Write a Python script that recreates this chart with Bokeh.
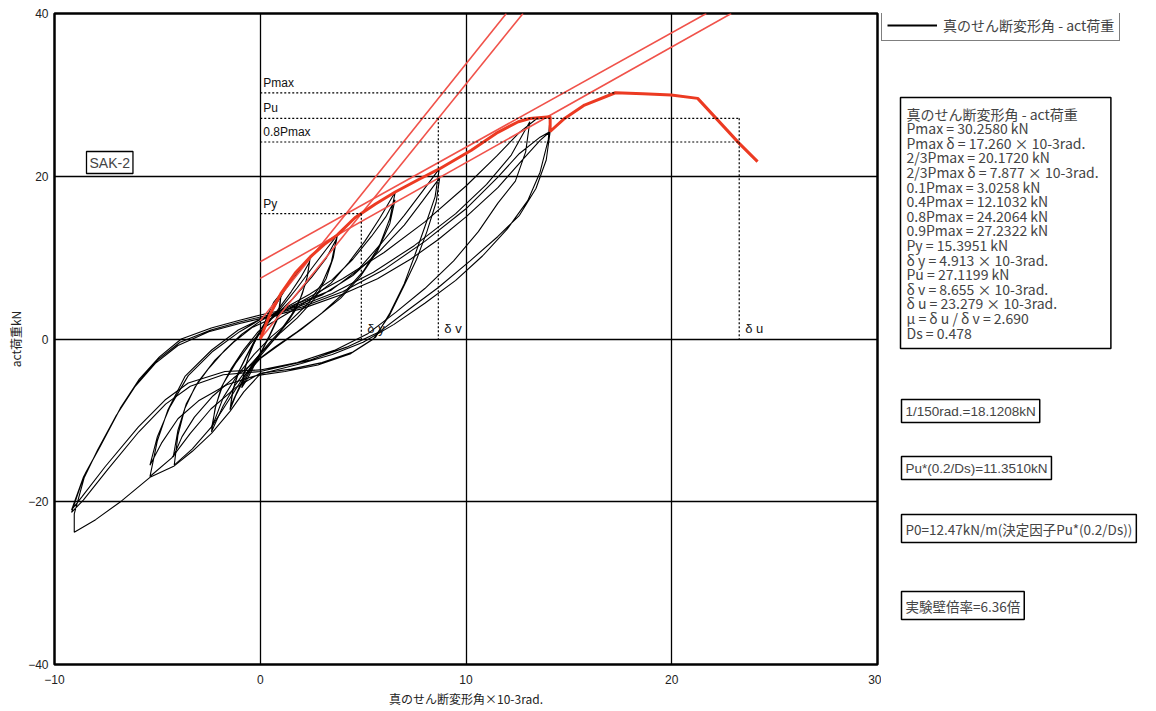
from bokeh.plotting import figure
from bokeh.layouts import row
from bokeh.models import Range1d, FixedTicker, Label, Legend, LegendItem, ColumnDataSource
from bokeh.embed import file_html
from bokeh.resources import INLINE

# ---------------- data ----------------
x_ticks = [-10, 0, 10, 20, 30]
y_ticks = [-40, -20, 0, 20, 40]

# hysteresis loops (true shear deformation angle x10-3 rad, act load kN)
cycle1 = [(0.0, 0.0), (0.3, 2.6), (0.65, 4.5), (1.02, 5.65), (0.95, 3.9), (0.8, 2.2), (0.5, 0.6), (0.2, -0.9),
          (0.0, -1.9), (-0.3, -3.3), (-0.6, -4.8), (-0.9, -6.0), (-0.8, -4.2), (-0.6, -2.4), (-0.35, -0.8),
          (-0.1, 0.6), (0.2, 1.9), (0.6, 3.6), (1.0, 5.3), (0.9, 3.5), (0.7, 1.8), (0.4, 0.2), (0.1, -1.3),
          (-0.3, -3.0), (-0.85, -5.6), (-0.75, -3.6), (-0.5, -1.6), (-0.2, 0.2), (0.2, 1.9)]
cycle2 = [(0.2, 1.9), (0.6, 3.6), (1.2, 6.0), (1.8, 8.1), (2.43, 10.08), (2.3, 7.8), (2.05, 5.6), (1.7, 3.5),
          (1.2, 1.6), (0.7, 0.0), (0.2, -1.5), (-0.3, -3.0), (-0.8, -5.0), (-1.2, -7.0), (-1.47, -8.7),
          (-1.35, -6.5), (-1.1, -4.3), (-0.7, -2.2), (-0.3, -0.3), (0.2, 1.5), (0.8, 3.4), (1.5, 5.8),
          (2.0, 7.7), (2.4, 9.5), (2.25, 7.2), (1.95, 5.0), (1.5, 2.9), (1.0, 1.1), (0.4, -0.6), (-0.2, -2.4),
          (-0.8, -4.7), (-1.45, -8.3), (-1.3, -6.0), (-1.0, -3.8), (-0.6, -1.8), (-0.1, 0.4), (0.4, 2.0)]
cycle3 = [(0.4, 2.0), (1.0, 3.8), (1.8, 6.3), (2.6, 9.0), (3.2, 11.0), (3.75, 12.8), (3.55, 10.0), (3.2, 7.4),
          (2.6, 4.8), (1.8, 2.6), (1.0, 0.8), (0.2, -1.3), (-0.5, -3.2), (-1.2, -5.6), (-1.8, -8.2),
          (-2.37, -11.4), (-2.2, -8.6), (-1.9, -6.0), (-1.4, -3.6), (-0.8, -1.3), (-0.1, 0.9), (0.7, 2.8),
          (1.6, 5.0), (2.5, 7.6), (3.2, 9.9), (3.7, 12.3), (3.45, 9.4), (3.0, 6.8), (2.3, 4.3), (1.4, 2.1),
          (0.5, 0.2), (-0.3, -1.9), (-1.1, -4.4), (-1.8, -7.2), (-2.37, -11.0), (-2.15, -8.1), (-1.8, -5.5),
          (-1.2, -3.0), (-0.5, -0.6), (0.3, 1.6)]
cycle4 = [(0.3, 1.6), (1.5, 3.4), (2.5, 5.0), (3.45, 6.9), (4.3, 9.4), (5.08, 12.0), (5.8, 14.8), (6.56, 18.06),
          (6.3, 14.8), (5.8, 11.5), (5.0, 8.3), (4.0, 5.5), (3.0, 3.2), (2.0, 1.2), (1.0, -0.6), (0.0, -2.4),
          (-0.8, -4.6), (-1.5, -7.4), (-2.37, -10.8), (-3.3, -13.5), (-4.18, -15.5), (-4.0, -11.8),
          (-3.66, -8.5), (-3.17, -5.9), (-2.5, -3.6), (-1.71, -1.35), (-0.9, 0.6), (0.0, 2.2), (1.2, 3.8),
          (2.4, 5.5), (3.5, 7.3), (4.5, 9.8), (5.4, 12.6), (6.1, 15.0), (6.55, 17.1), (6.3, 14.2), (5.7, 10.8),
          (4.9, 7.8), (3.9, 5.0), (2.8, 2.8), (1.8, 0.9), (0.7, -1.0), (-0.3, -2.9), (-1.3, -4.8), (-2.3, -7.0),
          (-3.2, -9.6), (-3.8, -12.0), (-4.23, -14.5), (-4.0, -11.2), (-3.6, -8.0), (-3.0, -5.2), (-2.2, -2.6),
          (-1.3, -0.4), (-0.4, 1.4), (0.3, 2.2)]
cycle5 = [(0.3, 2.2), (1.84, 4.4), (3.45, 6.0), (4.75, 8.5), (5.9, 11.8), (7.0, 15.2), (7.9, 18.2), (8.7, 20.9),
          (8.5, 17.5), (8.0, 13.8), (7.5, 10.2), (7.0, 6.8), (6.3, 3.2), (5.6, 0.2), (4.5, -1.6), (3.0, -2.9),
          (1.5, -3.7), (0.0, -4.2), (-1.2, -6.0), (-2.4, -8.6), (-3.4, -11.6), (-4.3, -14.6), (-5.36, -16.9),
          (-5.0, -12.5), (-4.5, -8.8), (-3.66, -4.6), (-2.36, -1.35), (-1.07, 1.1), (-0.1, 2.3), (1.5, 3.8),
          (3.0, 5.4), (4.5, 7.8), (5.8, 10.8), (7.0, 14.0), (7.9, 17.0), (8.72, 19.8), (8.55, 16.8),
          (8.1, 13.2), (7.6, 9.8), (7.0, 6.6), (6.3, 3.0), (5.5, 0.0), (4.4, -1.8), (2.8, -3.2), (1.2, -4.0),
          (-0.2, -4.5), (-1.6, -5.6), (-3.0, -7.6), (-4.0, -9.8), (-4.8, -12.8), (-5.36, -15.5), (-5.0, -12.0),
          (-4.4, -8.4), (-3.5, -4.5), (-2.3, -1.5), (-1.0, 0.9), (0.0, 2.4)]
cycle6 = [(0.0, 2.4), (2.0, 4.6), (4.0, 7.4), (6.0, 10.6), (8.0, 14.4), (10.0, 18.8), (11.5, 22.5), (12.6, 25.4),
          (13.4, 27.0), (14.09, 27.3), (14.0, 24.5), (13.6, 20.5), (13.0, 17.0), (12.0, 13.5), (10.8, 10.2),
          (9.5, 7.2), (8.0, 4.4), (6.5, 1.8), (5.0, -0.4), (3.5, -1.9), (2.0, -3.0), (0.0, -4.3), (-0.8, -6.5),
          (-1.47, -8.9), (-2.37, -11.6), (-3.3, -13.8), (-4.18, -15.6), (-5.36, -17.0), (-6.74, -19.9),
          (-8.0, -22.2), (-9.04, -23.75), (-9.04, -21.5), (-8.5, -16.5), (-7.7, -12.8), (-6.8, -8.5),
          (-5.9, -5.0), (-4.9, -2.2), (-3.84, 0.0), (-2.38, 1.35), (-1.0, 2.3), (0.0, 2.95), (1.84, 3.97),
          (3.5, 5.6), (5.5, 8.2), (7.5, 11.5), (9.5, 15.4), (11.0, 19.0), (12.2, 22.6), (13.1, 26.7),
          (12.9, 23.0), (12.4, 19.4), (11.55, 16.7), (10.6, 13.2), (9.4, 9.6), (8.0, 6.2), (6.6, 3.3),
          (5.2, 0.6), (3.6, -1.4), (1.8, -2.9), (0.0, -3.8), (-1.72, -4.0), (-3.5, -5.4), (-4.63, -7.5),
          (-5.92, -10.8), (-7.54, -15.7), (-8.67, -19.4), (-9.17, -21.0), (-8.6, -17.0), (-7.8, -13.3),
          (-6.9, -9.0), (-6.0, -5.5), (-5.0, -2.6), (-3.9, -0.4), (-2.4, 1.1), (-1.0, 2.1), (0.0, 2.7),
          (2.0, 3.9), (4.0, 5.8), (6.0, 8.5), (8.0, 12.0), (10.0, 16.0), (11.55, 19.9), (12.6, 22.8),
          (13.6, 24.8), (14.09, 25.5), (13.9, 22.0), (13.4, 18.5), (12.6, 15.2), (11.55, 12.6), (10.2, 9.6),
          (8.64, 6.3), (7.2, 3.6), (5.8, 0.9), (4.2, -1.0), (2.4, -2.6), (0.0, -4.0), (-1.8, -4.4),
          (-3.4, -5.8), (-4.6, -8.0), (-5.9, -11.4), (-7.4, -16.0), (-8.6, -19.8), (-9.17, -21.3),
          (-8.7, -17.8), (-7.9, -13.6), (-7.0, -9.4), (-6.1, -5.9), (-5.1, -3.0), (-4.0, -0.8), (-2.5, 0.9),
          (-1.0, 1.9), (0.0, 2.5), (2.0, 3.7), (4.0, 5.5), (5.7, 7.4), (7.3, 9.8), (8.64, 12.2), (10.0, 15.0),
          (11.55, 18.6), (12.7, 21.9), (13.6, 24.4), (14.09, 25.5)]
cycles = [cycle1, cycle2, cycle3, cycle4, cycle5, cycle6]

# skeleton (envelope) curve, red
env_x = [0.0, 0.45, 1.02, 1.7, 2.43, 3.1, 3.75, 4.6, 5.6, 6.56, 7.7, 8.7, 10.26, 11.55, 12.54, 13.1, 14.09,
         14.09, 14.79, 15.76, 17.26, 18.6, 19.97, 21.26, 23.28, 24.17]
env_y = [0.0, 2.9, 5.65, 8.1, 10.08, 11.6, 12.8, 14.9, 16.6, 18.06, 19.6, 20.9, 23.2, 25.4, 26.7, 27.1, 27.3,
         25.5, 27.1, 28.75, 30.26, 30.15, 29.98, 29.57, 24.04, 21.8]

# evaluation straight lines (red, thin)
line1_x = [0.0, 11.96]
line1_y = [2.23, 40.0]
lineK_x = [0.0, 12.77]
lineK_y = [0.0, 40.0]
line2_x = [0.0, 22.89]
line2_y = [7.45, 40.0]
line3_x = [0.0, 21.68]
line3_y = [9.5, 40.0]

# evaluation values
Pmax, Pmax_d = 30.2580, 17.260
Pu, Py = 27.1199, 15.3951
P08 = 24.2064
d_y, d_v, d_u = 4.913, 8.655, 23.279

stats_lines = [
    "真のせん断変形角 - act荷重",
    "Pmax = 30.2580 kN",
    "Pmax δ  = 17.260  × 10-3rad.",
    "2/3Pmax = 20.1720 kN",
    "2/3Pmax δ  = 7.877  × 10-3rad.",
    "0.1Pmax = 3.0258 kN",
    "0.4Pmax = 12.1032 kN",
    "0.8Pmax = 24.2064 kN",
    "0.9Pmax = 27.2322 kN",
    "Py = 15.3951 kN",
    " δ y = 4.913  × 10-3rad.",
    "Pu = 27.1199 kN",
    " δ v = 8.655  × 10-3rad.",
    " δ u = 23.279  × 10-3rad.",
    " μ  =  δ u /  δ v = 2.690",
    "Ds =  0.478",
]
box_texts = ["1/150rad.=18.1208kN", "Pu*(0.2/Ds)=11.3510kN",
             "P0=12.47kN/m(決定因子Pu*(0.2/Ds))", "実験壁倍率=6.36倍"]
legend_label = "真のせん断変形角 - act荷重"

JP = "Noto Sans CJK JP"
LAT = "Liberation Sans"
RED = "#ec3a22"
RED_THIN = "#f0524a"

FRAME_H = 651
BORDER_TOP = 13
BORDER_BOTTOM = 40

# ---------------- main figure ----------------
p = figure(frame_width=823, frame_height=FRAME_H, x_range=Range1d(-10, 30), y_range=Range1d(-40, 40),
           output_backend="svg", toolbar_location=None,
           min_border_left=54, min_border_right=4, min_border_top=BORDER_TOP, min_border_bottom=BORDER_BOTTOM)
p.background_fill_color = "white"
p.border_fill_color = "white"
p.outline_line_color = "black"
p.outline_line_width = 2.5

for ax in (p.xaxis[0], p.yaxis[0]):
    ax.axis_line_color = None
    ax.major_tick_line_color = None
    ax.minor_tick_line_color = None
    ax.major_tick_out = 0
    ax.major_tick_in = 0
    ax.minor_tick_out = 0
    ax.major_label_text_font = LAT
    ax.major_label_text_font_size = "12px"
    ax.major_label_text_color = "#222222"
    ax.axis_label_text_font = JP
    ax.axis_label_text_font_size = "12px"
    ax.axis_label_text_font_style = "normal"
    ax.axis_label_text_color = "#222222"
p.xaxis.ticker = FixedTicker(ticks=x_ticks)
p.yaxis.ticker = FixedTicker(ticks=y_ticks)
p.xaxis.axis_label = "真のせん断変形角×10-3rad."
p.yaxis.axis_label = "act荷重kN"
p.xaxis.major_label_standoff = 10
p.yaxis.major_label_standoff = 6
p.xaxis.axis_label_standoff = 3
p.yaxis.axis_label_standoff = 1

p.xgrid.ticker = FixedTicker(ticks=x_ticks)
p.ygrid.ticker = FixedTicker(ticks=y_ticks)
for g in (p.xgrid[0], p.ygrid[0]):
    g.grid_line_color = "black"
    g.grid_line_width = 1.3

# hysteresis loops
loop_src = ColumnDataSource(dict(xs=[[pt[0] for pt in c] for c in cycles],
                                 ys=[[pt[1] for pt in c] for c in cycles]))
p.multi_line("xs", "ys", source=loop_src, line_color="black", line_width=1.1)

# evaluation lines
for lx, ly in ((line1_x, line1_y), (lineK_x, lineK_y), (line2_x, line2_y), (line3_x, line3_y)):
    p.line(lx, ly, line_color=RED_THIN, line_width=1.6)
p.line(env_x, env_y, line_color=RED, line_width=3)

# dotted guide lines
dot = dict(line_color="black", line_width=1.2, line_dash="2 2")
p.line([0, Pmax_d], [Pmax, Pmax], **dot)
p.line([0, d_u], [Pu, Pu], **dot)
p.line([0, d_u], [P08, P08], **dot)
p.line([0, d_y], [Py, Py], **dot)
p.line([d_y, d_y], [Py, 0], **dot)
p.line([d_v, d_v], [Pu, 0], **dot)
p.line([d_u, d_u], [Pu, 0], **dot)

for txt, yv in (("Pmax", Pmax), ("Pu", Pu), ("0.8Pmax", P08), ("Py", Py)):
    p.add_layout(Label(x=0, y=yv, text=txt, x_offset=3, y_offset=3, text_font=LAT,
                       text_font_size="12px", text_baseline="bottom", text_align="left",
                       text_color="#111111"))
for txt, xv in (("δ y", d_y), ("δ v", d_v), ("δ u", d_u)):
    p.add_layout(Label(x=xv, y=0, text=txt, x_offset=6, y_offset=3, text_font=LAT,
                       text_font_size="13px", text_baseline="bottom", text_align="left",
                       text_color="#111111"))

# SAK-2 box
p.add_layout(Label(x=32, y=513, x_units="screen", y_units="screen", text="SAK-2", anchor="top_left",
                   text_font=LAT, text_font_size="14px", text_baseline="top", padding=3,
                   background_fill_color="white", border_line_color="black", border_line_width=1.3))

# ---------------- right-hand panel (legend and result boxes) ----------------
p2 = figure(frame_width=264, frame_height=FRAME_H, x_range=Range1d(0, 264), y_range=Range1d(0, FRAME_H),
            output_backend="svg", toolbar_location=None, x_axis_location=None, y_axis_location=None,
            min_border_left=0, min_border_right=0, min_border_top=BORDER_TOP, min_border_bottom=BORDER_BOTTOM)
p2.grid.visible = False
p2.outline_line_color = None
p2.background_fill_color = "white"
p2.border_fill_color = "white"

# legend sample line (its data sits outside the visible ranges; only the legend glyph shows)
legend_r = p2.line([-60, -50], [-60, -60], line_color="black", line_width=2)
legend = Legend(items=[LegendItem(label=legend_label, renderers=[legend_r])],
                location=(0, 623), label_text_font=JP, label_text_font_size="14px",
                glyph_width=50, glyph_height=14, label_height=14, padding=5, margin=0,
                label_standoff=6, spacing=0, border_line_color="black", border_line_width=1.5,
                background_fill_color="white", background_fill_alpha=1.0)
p2.add_layout(legend)

p2.add_layout(Label(x=19, y=567, text="\n".join(stats_lines),
                    anchor="top_left", text_font=JP, text_font_size="14px", text_line_height=0.73,
                    text_baseline="top", padding=6, background_fill_color="white",
                    border_line_color="black", border_line_width=1.5))

for txt, ty in zip(box_texts, [265, 208, 150, 73]):
    p2.add_layout(Label(x=20, y=ty, text=txt, anchor="top_left",
                        text_font=JP if any(ord(ch) > 0x3000 for ch in txt) else LAT,
                        text_font_size="13.5px", text_baseline="top", padding=4,
                        background_fill_color="white", border_line_color="black", border_line_width=1.5))

open("out.html", "w").write(file_html(row(p, p2), INLINE))
